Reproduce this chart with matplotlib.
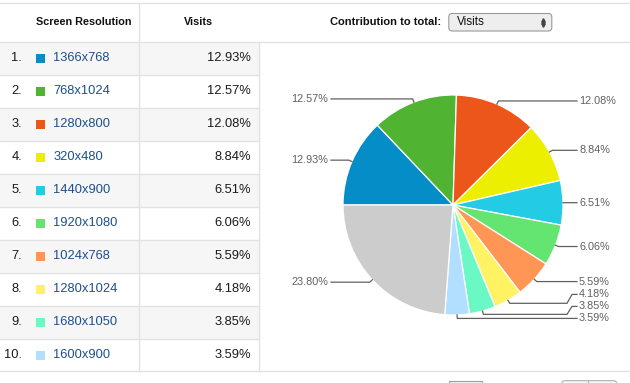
import numpy as np
import matplotlib
matplotlib.use("Agg")
import matplotlib.pyplot as plt
from matplotlib.patches import Rectangle, FancyBboxPatch

# ---------------- data ----------------
resolutions = ["1366x768", "768x1024", "1280x800", "320x480", "1440x900",
               "1920x1080", "1024x768", "1280x1024", "1680x1050", "1600x900"]
visits_pct = [12.93, 12.57, 12.08, 8.84, 6.51, 6.06, 5.59, 4.18, 3.85, 3.59]
other_pct = 23.80
header_labels = ["Screen Resolution", "Visits"]
contribution_label = "Contribution to total:"
metric_choice = "Visits"

# ---------------- styles ----------------
slice_colors = ["#058DC7", "#50B432", "#ED561B", "#EDEF00", "#24CBE5",
                "#64E572", "#FF9655", "#FFF263", "#6AF9C4", "#B2DEFF"]
other_color = "#CCCCCC"
link_color = "#1d4f8c"
text_color = "#1a1a1a"
grid_color = "#e2e2e2"
label_color = "#606060"

plt.rcParams['font.family'] = ['Liberation Sans', 'DejaVu Sans']

W, H = 630, 383
fig = plt.figure(figsize=(W / 100, H / 100), dpi=100)
ax = fig.add_axes([0, 0, 1, 1])


def Y(y):
    return H - y


# ---------------- table ----------------
row_top0 = 41.7
row_h = 32.98
n = len(resolutions)
table_bottom = row_top0 + n * row_h
col1_x = 139.3
col2_x = 259.3
fs_table = 9.3

for i in range(n):
    top = row_top0 + i * row_h
    if i % 2 == 0:
        ax.add_patch(Rectangle((0, Y(top + row_h)), col2_x, row_h,
                               facecolor="#f6f6f6", edgecolor="none", zorder=0))
    if i > 0:
        ax.plot([0, col2_x], [Y(top), Y(top)], color=grid_color, lw=1, zorder=1)
    cy = top + row_h / 2
    ax.text(22, Y(cy), f"{i + 1}.", ha="right", va="center", fontsize=fs_table,
            color=text_color)
    ax.add_patch(Rectangle((36, Y(cy) - 4.5), 9, 9, facecolor=slice_colors[i],
                           edgecolor="none", zorder=2))
    ax.text(53.3, Y(cy), resolutions[i], ha="left", va="center", fontsize=fs_table,
            color=link_color)
    ax.text(251, Y(cy), f"{visits_pct[i]:.2f}%", ha="right", va="center",
            fontsize=fs_table, color=text_color)

# horizontal rules
ax.plot([0, W], [Y(2.7), Y(2.7)], color=grid_color, lw=1, zorder=1)
ax.plot([0, W], [Y(row_top0), Y(row_top0)], color=grid_color, lw=1, zorder=1)
ax.plot([0, W], [Y(table_bottom), Y(table_bottom)], color=grid_color, lw=1, zorder=1)
# vertical rules
ax.plot([col1_x, col1_x], [Y(2.7), Y(table_bottom)], color=grid_color, lw=1, zorder=1)
ax.plot([col2_x, col2_x], [Y(row_top0), Y(table_bottom)], color=grid_color, lw=1, zorder=1)

# header
ax.text(35.7, Y(22.3), header_labels[0], ha="left", va="center", fontsize=7.8,
        fontweight="bold", color="#111111")
ax.text(198, Y(22.3), header_labels[1], ha="center", va="center", fontsize=7.8,
        fontweight="bold", color="#111111")
ax.text(330, Y(22.3), contribution_label, ha="left", va="center", fontsize=8,
        fontweight="bold", color="#111111")

# dropdown
ax.add_patch(FancyBboxPatch((448.8, Y(31)), 103, 17.5,
                            boxstyle="round,pad=0,rounding_size=3.5",
                            facecolor="#eeeeee", edgecolor="#9a9a9a", lw=0.8,
                            zorder=2))
ax.text(457, Y(22.3), metric_choice, ha="left", va="center", fontsize=8.5,
        color="#111111", zorder=3)
ax.plot([543], [Y(19.6)], marker="^", ms=2.6, color="#444444", zorder=3)
ax.plot([543], [Y(24.8)], marker="v", ms=2.6, color="#444444", zorder=3)

# bottom controls (cut off)
ax.add_patch(Rectangle((449, Y(392)), 32.7, 11.3, facecolor="#f2f2f2",
                       edgecolor="#a0a0a0", lw=0.8, zorder=2))
ax.add_patch(FancyBboxPatch((561.7, Y(392)), 55, 11.3,
                            boxstyle="round,pad=0,rounding_size=3",
                            facecolor="#f8f8f8", edgecolor="#b0b0b0", lw=0.8,
                            zorder=2))
ax.plot([588, 588], [Y(381), Y(392)], color="#b0b0b0", lw=0.8, zorder=3)

# ---------------- pie ----------------
pie_vals = visits_pct + [other_pct]
pie_cols = slice_colors + [other_color]
cx, cy_up, r = 453, Y(205), 110
wedges, _ = ax.pie(pie_vals, colors=pie_cols, startangle=180, counterclock=False,
                   center=(cx, cy_up), radius=r, frame=True,
                   wedgeprops=dict(edgecolor="white", linewidth=0.9))

# label layout
gap = 12.0
right, left = [], []
for w, v in zip(wedges, pie_vals):
    mid = np.deg2rad((w.theta1 + w.theta2) / 2)
    c, s = np.cos(mid), np.sin(mid)
    A = (cx + r * c, cy_up + r * s)
    B = (cx + (r + 3.5) * c, cy_up + (r + 3.5) * s)
    item = {"A": A, "B": B, "v": v}
    (right if c > 0 else left).append(item)


def layout(items):
    items.sort(key=lambda d: d["B"][1])  # bottom first (y-up)
    prev = None
    for d in items:
        ly = d["B"][1]
        if prev is not None:
            ly = max(ly, prev + gap)
        d["ly"] = ly
        prev = ly


layout(right)
layout(left)

for d in right:
    A, B, ly = d["A"], d["B"], d["ly"]
    if abs(ly - B[1]) < 1.0:
        xs = [A[0], B[0], 577]
        ys = [A[1], B[1], B[1]]
    else:
        xs = [A[0], B[0], 567, 572, 577]
        ys = [A[1], B[1], B[1], ly, ly]
    ax.plot(xs, ys, color=label_color, lw=0.9, zorder=3, solid_joinstyle="miter")
    ax.text(579, ly, f"{d['v']:.2f}%", ha="left", va="center", fontsize=7.8,
            color=label_color)

for d in left:
    A, B, ly = d["A"], d["B"], d["ly"]
    if abs(ly - B[1]) < 1.0:
        xs = [A[0], B[0], 331]
        ys = [A[1], B[1], B[1]]
    else:
        xs = [A[0], B[0], 341, 336, 331]
        ys = [A[1], B[1], B[1], ly, ly]
    ax.plot(xs, ys, color=label_color, lw=0.9, zorder=3, solid_joinstyle="miter")
    ax.text(328.5, ly, f"{d['v']:.2f}%", ha="right", va="center", fontsize=7.8,
            color=label_color)

ax.set_aspect("auto")
ax.set_xlim(0, W)
ax.set_ylim(0, H)
ax.axis("off")

fig.savefig("out.png", dpi=100, facecolor="white")
